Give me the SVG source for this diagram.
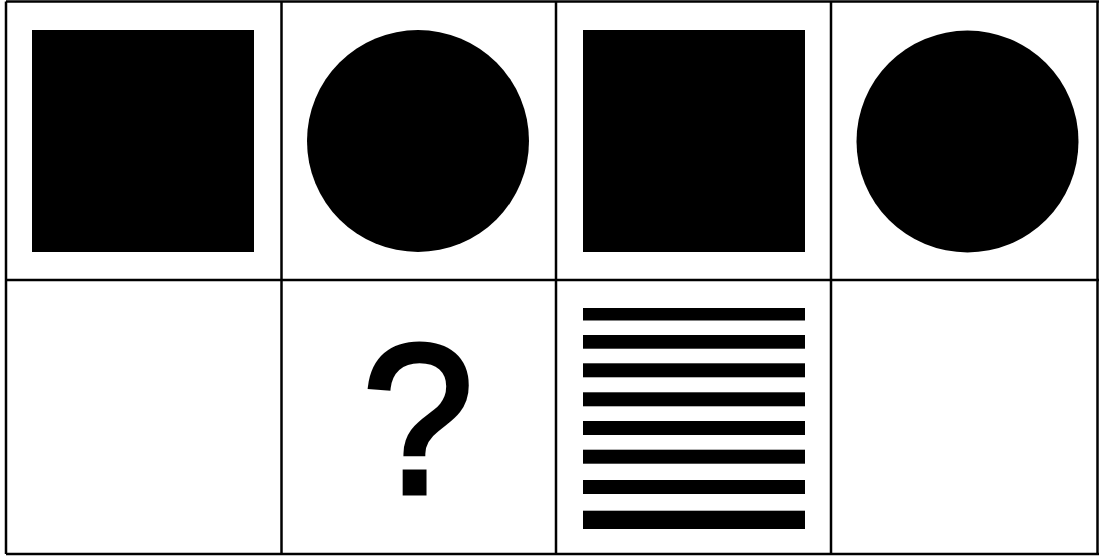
<svg xmlns="http://www.w3.org/2000/svg" width="1099" height="556" viewBox="0 0 1099 556">
  <style>
    .grid { stroke: #000; stroke-width: 2.5; fill: none; }
    .shape { fill: #000; }
    .q { font-family: "Liberation Sans", Arial, sans-serif; font-size: 214px; fill: #000; stroke: #000; stroke-width: 5; stroke-linejoin: miter; }
  </style>
  <rect x="0" y="0" width="1099" height="556" fill="#fff"/>
  <g id="grid" class="grid">
    <line x1="6" y1="1.5" x2="1099" y2="1.5"/>
    <line x1="6" y1="280" x2="1099" y2="280"/>
    <line x1="6" y1="554" x2="1099" y2="554"/>
    <line x1="6" y1="1.5" x2="6" y2="554"/>
    <line x1="281.5" y1="1.5" x2="281.5" y2="554"/>
    <line x1="556" y1="1.5" x2="556" y2="554"/>
    <line x1="831" y1="1.5" x2="831" y2="554"/>
    <line x1="1097.5" y1="1.5" x2="1097.5" y2="554"/>
  </g>
  <g id="cell-1-1"><rect class="shape" x="32" y="30" width="222" height="222"/></g>
  <g id="cell-1-2"><circle class="shape" cx="418" cy="141" r="111"/></g>
  <g id="cell-1-3"><rect class="shape" x="583" y="30" width="222" height="222"/></g>
  <g id="cell-1-4"><circle class="shape" cx="967.5" cy="141.5" r="111"/></g>
  <g id="cell-2-1"></g>
  <g id="cell-2-2"><text class="q" x="0" y="493" text-anchor="middle" transform="translate(418 0) scale(0.94 1)">?</text></g>
  <g id="cell-2-3">
    <rect class="shape" x="583" y="308" width="222" height="12.5"/>
    <rect class="shape" x="583" y="335" width="222" height="13.7"/>
    <rect class="shape" x="583" y="363.3" width="222" height="14"/>
    <rect class="shape" x="583" y="392.3" width="222" height="14"/>
    <rect class="shape" x="583" y="421" width="222" height="14"/>
    <rect class="shape" x="583" y="449.7" width="222" height="14"/>
    <rect class="shape" x="583" y="480" width="222" height="14"/>
    <rect class="shape" x="583" y="510.7" width="222" height="18.3"/>
  </g>
  <g id="cell-2-4"></g>
</svg>
